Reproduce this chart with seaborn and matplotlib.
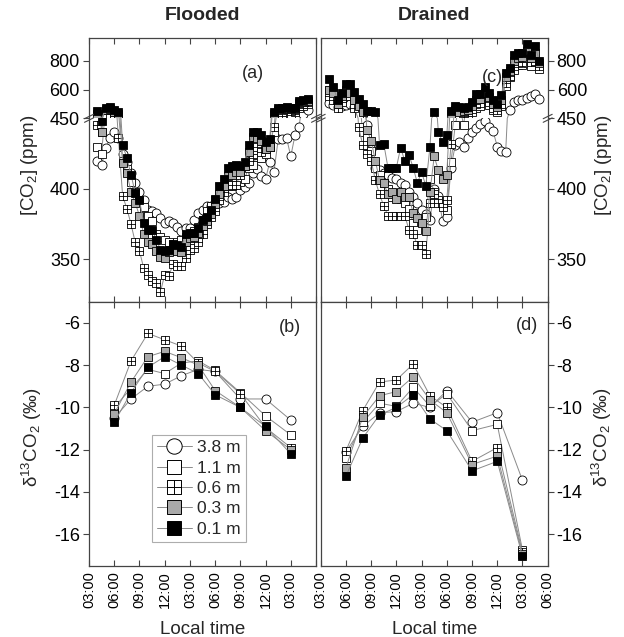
import matplotlib
matplotlib.use('Agg')
import matplotlib.pyplot as plt
import seaborn as sns
from matplotlib.lines import Line2D
from matplotlib.path import Path
from matplotlib.ticker import NullLocator

sns.set_theme(style='ticks')
plt.rcParams['font.family'] = ['Liberation Sans', 'DejaVu Sans']
plt.rcParams['mathtext.fontset'] = 'custom'
plt.rcParams['mathtext.rm'] = 'Liberation Sans'
plt.rcParams['mathtext.it'] = 'Liberation Sans:italic'
plt.rcParams['mathtext.default'] = 'regular'

# sampling times, hours since 03:00 on day 1
t_co2 = [1.0, 1.5, 2.0, 2.5, 3.0, 3.5, 4.0, 4.5, 5.0, 5.5,
         6.0, 6.5, 7.0, 7.5, 8.0, 8.5, 9.0, 9.5, 10.0, 10.5,
         11.0, 11.5, 12.0, 12.5, 13.0, 13.5, 14.0, 14.5, 15.0, 15.5,
         16.0, 16.5, 17.0, 17.5, 18.0, 18.5, 19.0, 19.5, 20.0, 20.5,
         21.0, 21.5, 22.0, 22.5, 23.0, 23.5, 24.0, 24.5, 25.0, 25.5,
         26.0]
t_d13 = [3, 5, 7, 9, 11, 13, 15, 18, 21, 24]

depths = ['3.8 m', '1.1 m', '0.6 m', '0.3 m', '0.1 m']

# [CO2] (ppm), flooded site
fl_co2_38 = [420, 417, 429, 436, 440, 436, 425, 419, 411, 404,
             398, 392, 385, 384, 383, 379, 376, 377, 376, 373,
             370, 372, 372, 378, 383, 385, 388, 388, 390, 390,
             391, 394, 393, 394, 399, 401, 404, 411, 414, 409,
             407, 419, 412, 435, 435, 436, 423, 438, 444, 470,
             488]
fl_co2_11 = [430, 425, 460, 480, 470, 455, 420, 414, 405, 398,
             392, 387, 381, 377, 368, 366, 364, 362, 361, 362,
             364, 366, 368, 370, 373, 378, 384, 388, 392, 396,
             400, 403, 402, 403, 405, 407, 415, 417, 424, 422,
             425, 430, 440, 460, 470, 480, 470, 480, 500, 510,
             520]
fl_co2_06 = [445, 440, 470, 490, 480, 436, 395, 386, 375, 362,
             356, 344, 339, 335, 333, 327, 339, 338, 347, 345,
             345, 351, 357, 358, 362, 368, 375, 380, 384, 392,
             398, 402, 403, 403, 410, 416, 420, 425, 430, 426,
             428, 430, 444, 470, 480, 490, 485, 490, 510, 520,
             530]
fl_co2_03 = [470, 440, 490, 495, 480, 470, 418, 411, 398, 390,
             381, 368, 362, 361, 356, 352, 351, 355, 358, 356,
             355, 362, 365, 366, 369, 374, 377, 382, 389, 396,
             402, 409, 410, 412, 412, 416, 426, 437, 436, 434,
             428, 430, 470, 490, 492, 495, 492, 495, 525, 530,
             535]
fl_co2_01 = [486, 448, 497, 504, 488, 480, 431, 422, 410, 397,
             392, 376, 371, 371, 364, 357, 356, 357, 361, 360,
             359, 368, 369, 369, 372, 378, 380, 385, 393, 402,
             407, 415, 416, 417, 416, 419, 431, 440, 440, 438,
             433, 435, 480, 497, 497, 502, 497, 500, 537, 540,
             546]

# [CO2] (ppm), drained site
dr_co2_38 = [523, 515, 505, 510, 515, 520, 505, 490, 470, 445,
             428, 415, 413, 411, 410, 408, 407, 404, 403, 398,
             394, 390, 385, 382, 378, 400, 395, 377, 380, 415,
             431, 433, 430, 436, 440, 443, 446, 448, 444, 441,
             430, 427, 426, 488, 532, 541, 541, 550, 560, 576,
             545]
dr_co2_11 = [600, 580, 510, 545, 590, 575, 520, 470, 440, 436,
             427, 415, 410, 404, 400, 394, 397, 393, 390, 386,
             376, 371, 377, 380, 407, 398, 392, 389, 385, 419,
             445, 460, 445, 470, 480, 500, 510, 540, 515, 490,
             480, 510, 620, 680, 730, 770, 770, 780, 760, 790,
             740]
dr_co2_06 = [560, 540, 500, 530, 570, 560, 500, 444, 431, 425,
             420, 406, 396, 388, 381, 381, 381, 381, 381, 371,
             368, 360, 360, 354, 390, 396, 390, 387, 392, 432,
             460, 470, 475, 480, 495, 520, 525, 560, 530, 500,
             490, 520, 640, 690, 760, 780, 790, 820, 790, 800,
             760]
dr_co2_03 = [600, 580, 520, 560, 600, 580, 540, 510, 480, 442,
             434, 420, 406, 404, 396, 398, 393, 398, 394, 394,
             383, 379, 376, 370, 398, 423, 413, 407, 410, 470,
             490, 480, 485, 490, 510, 540, 545, 580, 555, 520,
             505, 540, 680, 720, 800, 820, 830, 880, 820, 870,
             780]
dr_co2_01 = [665, 618, 541, 582, 635, 632, 588, 544, 519, 486,
             486, 480, 431, 432, 415, 415, 415, 429, 420, 424,
             415, 404, 412, 402, 430, 480, 440, 433, 438, 486,
             508, 502, 497, 502, 532, 576, 576, 618, 582, 541,
             519, 570, 707, 743, 853, 865, 865, 949, 853, 930,
             802]

# d13C of CO2 (permil)
fl_d13_38 = [-10.5, -9.6, -9.0, -8.9, -8.5, -8.2, -8.3, -9.6, -9.6, -10.6]
fl_d13_11 = [-10.0, -9.1, -8.2, -8.4, -7.9, -7.8, -8.25, -9.3, -10.4, -11.3]
fl_d13_06 = [-9.9, -7.8, -6.5, -6.8, -7.1, -7.9, -8.3, -9.35, -10.95, -11.9]
fl_d13_03 = [-10.3, -8.8, -7.6, -7.35, -7.65, -8.0, -9.2, -10.0, -11.1, -12.0]
fl_d13_01 = [-10.7, -9.3, -8.1, -7.6, -8.0, -8.4, -9.4, -10.0, -10.9, -12.2]

dr_d13_38 = [-12.1, -10.9, -10.25, -10.2, -9.8, -10.0, -9.2, -10.7, -10.25, -13.45]
dr_d13_11 = [-12.4, -10.7, -9.8, -9.95, -9.05, -9.95, -9.35, -11.1, -10.8, -16.75]
dr_d13_06 = [-12.06, -10.15, -8.8, -8.7, -7.95, -9.45, -10.0, -12.55, -11.9, -16.85]
dr_d13_03 = [-12.85, -10.45, -9.45, -9.25, -8.55, -9.65, -10.25, -12.7, -12.3, -16.95]
dr_d13_01 = [-13.25, -11.45, -10.35, -10.0, -9.4, -10.55, -11.1, -13.0, -12.55, -17.05]

time_ticks = [0, 3, 6, 9, 12, 15, 18, 21, 24, 27]
time_labels = ['03:00', '06:00', '09:00', '12:00', '03:00',
               '06:00', '09:00', '12:00', '03:00', '06:00']

# square with a cross inside
BOX_PLUS = Path([(-1, -1), (1, -1), (1, 1), (-1, 1), (-1, -1),
                 (0, -1), (0, 1), (-1, 0), (1, 0)],
                [Path.MOVETO, Path.LINETO, Path.LINETO, Path.LINETO, Path.CLOSEPOLY,
                 Path.MOVETO, Path.LINETO, Path.MOVETO, Path.LINETO])

LINE_C = '#8a8a8a'
EDGE_C = '#444444'
STYLE = {
    '3.8 m': dict(marker='o', fc='white', ms=6.5),
    '1.1 m': dict(marker='s', fc='white', ms=5.6),
    '0.6 m': dict(marker=BOX_PLUS, fc='white', ms=5.6),
    '0.3 m': dict(marker='s', fc='#a9a9a9', ms=5.6),
    '0.1 m': dict(marker='s', fc='black', ms=5.6),
}

W, H = 624, 637
BREAK = 450
fig = plt.figure(figsize=(W / 100, H / 100), dpi=100)


def fx(x):
    return x / W


def fy(y):
    return 1 - y / H


def draw_series(ax, t, vals, key, show=None):
    st = STYLE[key]
    sns.lineplot(x=t, y=vals, ax=ax, color=LINE_C, linewidth=0.7,
                 marker=st['marker'], markersize=st['ms'],
                 markerfacecolor=st['fc'], markeredgecolor='black',
                 markeredgewidth=0.6, markevery=show,
                 errorbar=None, legend=False)


def style_axes(ax):
    for s in ax.spines.values():
        s.set_color(EDGE_C)
        s.set_linewidth(0.9)
    ax.tick_params(colors=EDGE_C, labelcolor='black', width=0.8)
    ax.set_xlim(0, 27)
    ax.set_xticks(time_ticks)
    ax.set_xlabel('')
    ax.set_ylabel('')


panels = [
    (89, 'Flooded', [fl_co2_38, fl_co2_11, fl_co2_06, fl_co2_03, fl_co2_01],
     [fl_d13_38, fl_d13_11, fl_d13_06, fl_d13_03, fl_d13_01], 'left'),
    (320.7, 'Drained', [dr_co2_38, dr_co2_11, dr_co2_06, dr_co2_03, dr_co2_01],
     [dr_d13_38, dr_d13_11, dr_d13_06, dr_d13_03, dr_d13_01], 'right'),
]

y_top, y_brk, y_mid, y_bot = 37.7, 118.3, 301.7, 566
pw = 227

for x0, title, co2_sets, d13_sets, side in panels:
    ax_up = fig.add_axes([fx(x0), fy(y_brk), pw / W, (y_brk - y_top) / H])
    ax_lo = fig.add_axes([fx(x0), fy(y_mid), pw / W, (y_mid - y_brk) / H])
    ax_d = fig.add_axes([fx(x0), fy(y_bot), pw / W, (y_bot - y_mid) / H])

    ax_up.set_yscale('log')
    for key, vals in zip(depths, co2_sets):
        draw_series(ax_up, t_co2, vals, key, [v >= BREAK for v in vals])
        draw_series(ax_lo, t_co2, vals, key, [v < BREAK for v in vals])
    for key, vals in zip(depths, d13_sets):
        draw_series(ax_d, t_d13, vals, key)

    for ax in (ax_up, ax_lo, ax_d):
        style_axes(ax)

    ax_up.set_ylim(BREAK, 1010)
    ax_up.yaxis.set_minor_locator(NullLocator())
    ax_up.set_yticks([600, 800])
    ax_up.set_yticklabels(['600', '800'])
    ax_up.spines['bottom'].set_visible(False)
    ax_up.tick_params(axis='x', top=True, bottom=False, direction='in',
                      length=4, labelbottom=False, labeltop=False)

    ax_lo.set_ylim(320, BREAK)
    ax_lo.set_yticks([350, 400, 450])
    ax_lo.set_yticklabels(['350', '400', '450'])
    ax_lo.spines['top'].set_visible(False)
    ax_lo.tick_params(axis='x', top=False, bottom=True, direction='in',
                      length=4, labelbottom=False)
    ax_lo.yaxis.get_major_ticks()[2].tick1line.set_visible(False)
    ax_lo.yaxis.get_major_ticks()[2].tick2line.set_visible(False)

    ax_d.set_ylim(-17.5, -5)
    ax_d.set_yticks([-16, -14, -12, -10, -8, -6])
    ax_d.set_yticklabels(['-16', '-14', '-12', '-10', '-8', '-6'])
    ax_d.tick_params(axis='x', top=True, bottom=True, direction='in',
                     length=4, labelsize=10.5, labelrotation=90, pad=4)
    labels = list(time_labels)
    if side == 'left':
        labels[-1] = ''
    ax_d.set_xticklabels(labels)
    ax_d.set_xlabel('Local time', fontsize=13.5, labelpad=9)

    for ax in (ax_up, ax_lo, ax_d):
        if side == 'left':
            ax.tick_params(axis='y', left=True, right=False, labelleft=True,
                           labelright=False, direction='out', length=4,
                           pad=2.5, labelsize=13)
        else:
            ax.tick_params(axis='y', left=False, right=True, labelleft=False,
                           labelright=True, direction='out', length=4,
                           pad=2.5, labelsize=13)

    ax_up.set_title(title, fontsize=14, fontweight='bold', pad=13)

    # axis break marks
    for xb in (x0, x0 + pw):
        for dy in (-1.8, 1.8):
            fig.add_artist(Line2D([fx(xb - 4.5), fx(xb + 4.5)],
                                  [fy(y_brk + 2.2 + dy), fy(y_brk - 2.2 + dy)],
                                  color=EDGE_C, lw=0.8))

    if side == 'left':
        handles = []
        for key in depths:
            st = STYLE[key]
            handles.append(Line2D([], [], color=LINE_C, lw=0.7,
                                  marker=st['marker'],
                                  markersize=st['ms'] * 1.7,
                                  markerfacecolor=st['fc'],
                                  markeredgecolor='black',
                                  markeredgewidth=0.7))
        leg = ax_d.legend(handles, depths, loc='upper left',
                          bbox_to_anchor=(0.276, 0.496), borderaxespad=0,
                          fontsize=12.5, handlelength=2.0, handletextpad=0.3,
                          labelspacing=0.3, borderpad=0.3, fancybox=False)
        leg.get_frame().set_edgecolor('#999999')
        leg.get_frame().set_linewidth(0.8)

fig.text(fx(253), fy(73), '(a)', fontsize=13, ha='center', va='center')
fig.text(fx(492), fy(78), '(c)', fontsize=13, ha='center', va='center')
fig.text(fx(290), fy(327), '(b)', fontsize=13, ha='center', va='center')
fig.text(fx(527), fy(325), '(d)', fontsize=13, ha='center', va='center')

co2_label = '[CO$_2$] (ppm)'
d13_label = 'δ$^{13}$CO$_2$ (‰)'
fig.text(fx(29), fy(165), co2_label, rotation=90, fontsize=13.5,
         ha='center', va='center')
fig.text(fx(604), fy(165), co2_label, rotation=90, fontsize=13.5,
         ha='center', va='center')
fig.text(fx(32), fy(437), d13_label, rotation=90, fontsize=13.5,
         ha='center', va='center')
fig.text(fx(602), fy(437), d13_label, rotation=90, fontsize=13.5,
         ha='center', va='center')

fig.savefig('out.png', dpi=100)
